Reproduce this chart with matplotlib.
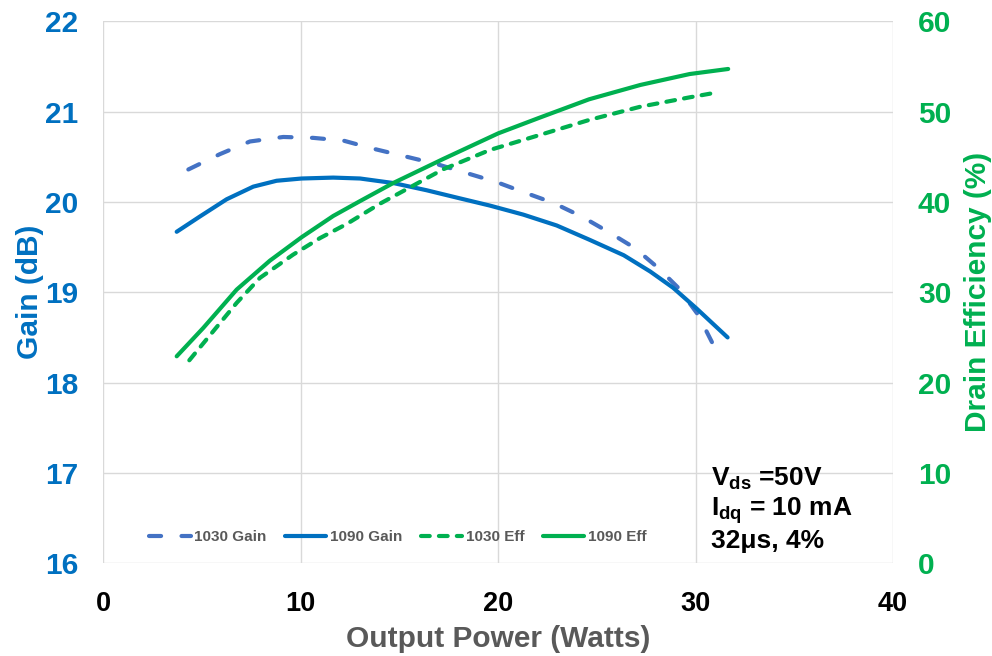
import matplotlib
matplotlib.use("Agg")
import matplotlib.pyplot as plt

plt.rcParams['font.family'] = ['Liberation Sans', 'DejaVu Sans']
plt.rcParams['mathtext.fontset'] = 'custom'
plt.rcParams['mathtext.rm'] = 'Liberation Sans:bold'
plt.rcParams['mathtext.bf'] = 'Liberation Sans:bold'

# Data
gain1090_x = [3.71, 4.89, 6.24, 7.59, 8.77, 10.04, 11.64, 13.0, 14.68, 16.37, 18.06, 19.58,
              21.27, 22.96, 24.64, 26.36, 27.7, 28.86, 30.05, 31.62]
gain1090_y = [19.67, 19.84, 20.03, 20.17, 20.235, 20.26, 20.27, 20.26, 20.21, 20.13, 20.04, 19.96,
              19.86, 19.74, 19.58, 19.41, 19.23, 19.05, 18.82, 18.50]

gain1030_x = [4.30, 5.90, 7.42, 9.11, 10.63, 12.15, 13.67, 15.19, 16.88, 18.4, 19.92,
              21.27, 22.79, 24.22, 25.57, 26.92, 28.1, 29.12, 30.13, 31.03]
gain1030_y = [20.36, 20.53, 20.67, 20.72, 20.71, 20.68, 20.59, 20.51, 20.42, 20.32, 20.22,
              20.11, 19.99, 19.84, 19.67, 19.49, 19.27, 19.05, 18.75, 18.36]

eff1090_x = [3.71, 5.06, 6.75, 8.43, 10.04, 11.64, 13.0, 14.68, 17.21, 20.0,
             22.1, 24.6, 27.2, 29.7, 31.65]
eff1090_y = [22.91, 26.06, 30.3, 33.5, 36.1, 38.45, 40.1, 42.1, 44.76, 47.6,
             49.34, 51.37, 52.96, 54.17, 54.73]

eff1030_x = [4.35, 5.56, 6.75, 7.93, 9.61, 10.97, 12.32, 14.0, 17.21, 19.58,
             22.1, 24.6, 27.2, 29.7, 31.0]
eff1030_y = [22.47, 25.68, 28.83, 31.6, 34.17, 36.0, 37.56, 39.8, 43.62, 45.76,
             47.42, 49.08, 50.55, 51.59, 52.1]

x_ticks = [0, 10, 20, 30, 40]
gain_ticks = [16, 17, 18, 19, 20, 21, 22]
eff_ticks = [0, 10, 20, 30, 40, 50, 60]

BLUE = '#0070C0'
BLUE2 = '#4472C4'
GREEN = '#00B050'
GRID = '#D9D9D9'

fig = plt.figure(figsize=(9.92, 6.56), dpi=100)
ax = fig.add_axes([0.1043, 0.1415, 0.7959, 0.8259])
ax2 = ax.twinx()

lw = 3.0
l1, = ax.plot(gain1030_x, gain1030_y, color=BLUE2, lw=lw, dashes=(2.9, 4.9),
              dash_capstyle='round', label='1030 Gain')
l2, = ax.plot(gain1090_x, gain1090_y, color=BLUE, lw=lw, solid_capstyle='round',
              solid_joinstyle='round', label='1090 Gain')
l3, = ax2.plot(eff1030_x, eff1030_y, color=GREEN, lw=lw, dashes=(2.1, 2.2),
               dash_capstyle='round', label='1030 Eff')
l4, = ax2.plot(eff1090_x, eff1090_y, color=GREEN, lw=lw, solid_capstyle='round',
               solid_joinstyle='round', label='1090 Eff')

ax.set_xlim(0, 40)
ax.set_ylim(16, 22)
ax2.set_ylim(0, 60)
ax.set_xticks(x_ticks)
ax.set_yticks(gain_ticks)
ax2.set_yticks(eff_ticks)

ax.grid(True, color=GRID, lw=1.0)
ax.set_axisbelow(True)
for a in (ax, ax2):
    for s in a.spines.values():
        s.set_visible(False)
    a.tick_params(length=0)

ax.tick_params(axis='x', labelsize=19.5, labelcolor='black', pad=20)
ax.tick_params(axis='y', labelsize=21.5, labelcolor=BLUE, pad=18)
ax2.tick_params(axis='y', labelsize=21.5, labelcolor=GREEN, pad=18)
for t in ax.get_xticklabels() + ax.get_yticklabels() + ax2.get_yticklabels():
    t.set_fontweight('bold')

ax.set_xlabel('Output Power (Watts)', fontsize=21.5, fontweight='bold', color='#595959', labelpad=6)
ax.set_ylabel('Gain (dB)', fontsize=21.5, fontweight='bold', color=BLUE, labelpad=1)
ax2.set_ylabel('Drain Efficiency (%)', fontsize=21.5, fontweight='bold', color=GREEN, labelpad=9)

leg = ax.legend(handles=[l1, l2, l3, l4], loc='center left', bbox_to_anchor=(0.058, 0.048),
                borderpad=0, borderaxespad=0,
                ncol=4, frameon=False, handlelength=2.7, handletextpad=0.25,
                columnspacing=1.2, prop={'weight': 'bold', 'size': 11})
for t in leg.get_texts():
    t.set_color('#595959')

ax.text(0.770, 0.181, r'V$_{\mathbf{ds}}$ =50V' + '\n' + r'I$_{\mathbf{dq}}$ = 10 mA' + '\n' + '32μs, 4%',
        transform=ax.transAxes, fontsize=19, fontweight='bold', color='black',
        va='top', ha='left', linespacing=1.15)

fig.savefig('out.png', dpi=100)
